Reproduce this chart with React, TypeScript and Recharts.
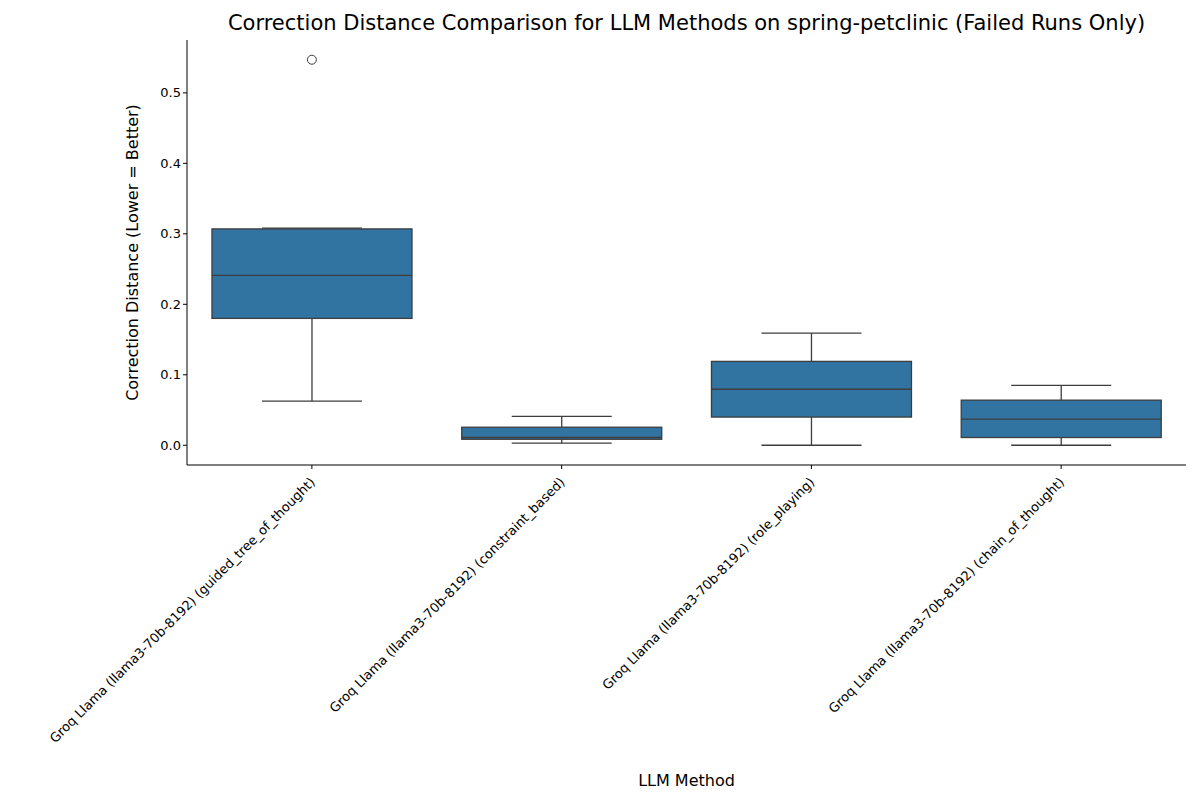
import React from 'react';
import { ComposedChart, Bar, Scatter, XAxis, YAxis } from 'recharts';

const methods = [
  'Groq Llama (llama3-70b-8192) (guided_tree_of_thought)',
  'Groq Llama (llama3-70b-8192) (constraint_based)',
  'Groq Llama (llama3-70b-8192) (role_playing)',
  'Groq Llama (llama3-70b-8192) (chain_of_thought)',
];
const mins = [0.0625, 0.003, 0.0, 0.0];
const q1s = [0.18, 0.0085, 0.04, 0.011];
const medians = [0.241, 0.011, 0.0795, 0.037];
const q3s = [0.307, 0.0256, 0.119, 0.064];
const maxs = [0.308, 0.041, 0.159, 0.085];
const outliers = [0.547, null, null, null];
const yTicks = [0, 0.1, 0.2, 0.3, 0.4, 0.5];

const data = methods.map((m, i) => ({
  name: m,
  range: [mins[i], maxs[i]],
  min: mins[i], q1: q1s[i], median: medians[i], q3: q3s[i], max: maxs[i],
  outlier: outliers[i],
}));

const LINE = '#3d3d3d';
const FILL = '#3274a1';

const BoxShape = (props: any) => {
  const { x, y, width, height, payload } = props;
  const { min, max, q1, median, q3 } = payload;
  const ppu = height / (max - min);
  const py = (v: number) => y + (max - v) * ppu;
  const cx = x + width / 2;
  const cap = width / 4;
  return (
    <g>
      <line x1={cx} x2={cx} y1={py(max)} y2={py(q3)} stroke={LINE} strokeWidth={1.3} />
      <line x1={cx} x2={cx} y1={py(q1)} y2={py(min)} stroke={LINE} strokeWidth={1.3} />
      <line x1={cx - cap} x2={cx + cap} y1={py(max)} y2={py(max)} stroke={LINE} strokeWidth={1.3} />
      <line x1={cx - cap} x2={cx + cap} y1={py(min)} y2={py(min)} stroke={LINE} strokeWidth={1.3} />
      <rect x={x} y={py(q3)} width={width} height={py(q1) - py(q3)} fill={FILL} stroke={LINE} strokeWidth={1.3} />
      <line x1={x} x2={x + width} y1={py(median)} y2={py(median)} stroke={LINE} strokeWidth={1.3} />
    </g>
  );
};

const Tick = (props: any) => {
  const { x, y, payload } = props;
  return (
    <text x={x + 4} y={y + 12} textAnchor="end" transform={`rotate(-45 ${x + 4} ${y + 12})`} fontSize={13} fill="#000">
      {payload.value}
    </text>
  );
};

export default function App() {
  const font = 'DejaVu Sans, sans-serif';
  return (
    <div style={{ position: 'absolute', left: 0, top: 0, width: 1200, height: 800, background: '#fff', fontFamily: font }}>
      <div style={{ position: 'absolute', top: 11, left: 187, width: 999, textAlign: 'center', fontSize: 21 }}>
        Correction Distance Comparison for LLM Methods on spring-petclinic (Failed Runs Only)
      </div>
      <ComposedChart width={1200} height={800} data={data} margin={{ top: 40, right: 14, left: 0, bottom: 0 }}
        barCategoryGap="10%" style={{ fontFamily: font }}>
        <XAxis dataKey="name" height={335} interval={0} tick={<Tick />} tickSize={4}
          axisLine={{ stroke: '#000' }} tickLine={{ stroke: '#000' }}
          label={{ value: 'LLM Method', position: 'insideBottom', offset: 14, fontSize: 16, fill: '#000' }} />
        <XAxis xAxisId="top" orientation="top" dataKey="name" height={0} tick={false} tickLine={false} axisLine={{ stroke: '#000' }} />
        <YAxis width={187} domain={[-0.028, 0.575]} ticks={yTicks} tickFormatter={(v: number) => v.toFixed(1)}
          tick={{ fontSize: 13, fill: '#000' }} tickSize={4} axisLine={{ stroke: '#000' }} tickLine={{ stroke: '#000' }}
          allowDataOverflow
          label={{ value: 'Correction Distance (Lower = Better)', angle: -90, position: 'insideLeft', offset: 132, dy: 0, fontSize: 16, fill: '#000', style: { textAnchor: 'middle' } }} />
        <YAxis yAxisId="right" orientation="right" width={0} tick={false} tickLine={false} axisLine={{ stroke: '#000' }} />
        <Bar dataKey="range" shape={<BoxShape />} isAnimationActive={false} />
        <Scatter dataKey="outlier" isAnimationActive={false}
          shape={(p: any) => (p.cy == null ? <g /> : <circle cx={p.cx} cy={p.cy} r={4.5} fill="none" stroke={LINE} strokeWidth={1} />)} />
      </ComposedChart>
    </div>
  );
}
